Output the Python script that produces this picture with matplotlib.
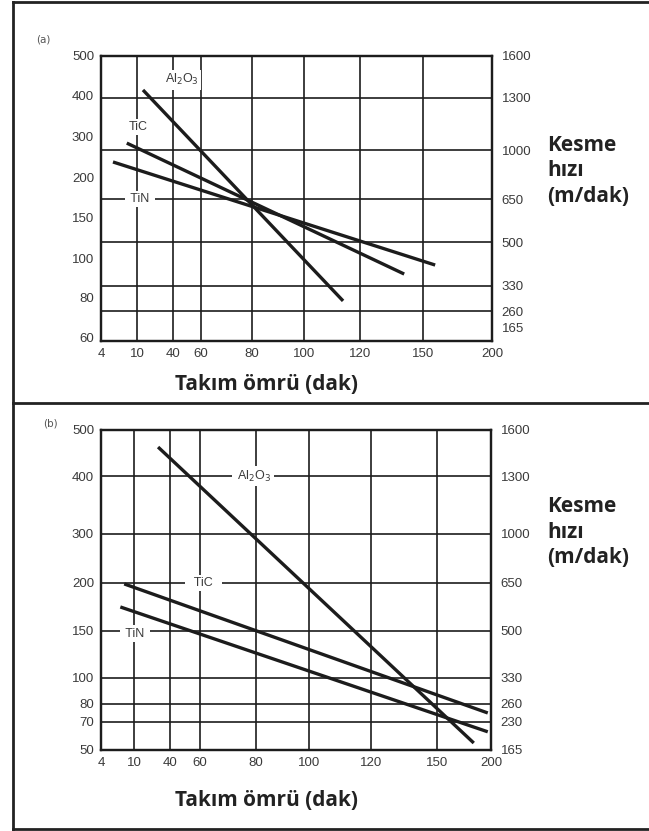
import numpy as np
import matplotlib
matplotlib.use('Agg')
import matplotlib.pyplot as plt
from matplotlib.lines import Line2D


# DATA
x_ticks = [4, 10, 40, 60, 80, 100, 120, 150, 200]

# panel (a)
a_left_ticks = [500, 400, 300, 200, 150, 100, 80, 60]
a_right_ticks = [1600, 1300, 1000, 650, 500, 330, 260, 165]
a_grid = [1600, 1300, 1000, 650, 500, 330, 260]
a_al2o3_x, a_al2o3_y = [15, 114], [413, 78.5]
a_tic_x, a_tic_y = [8.3, 141], [285, 92]
a_tin_x, a_tin_y = [6, 158.7], [239, 96.5]

# panel (b)
b_left_ticks = [500, 400, 300, 200, 150, 100, 80, 70, 50]
b_right_ticks = [1600, 1300, 1000, 650, 500, 330, 260, 230, 165]
b_grid = [1600, 1300, 1000, 650, 500, 330, 260, 230, 165]
b_al2o3_x, b_al2o3_y = [30, 184], [463, 55]
b_tic_x, b_tic_y = [8.2, 197], [199, 75]
b_tin_x, b_tin_y = [7.5, 197], [175, 63]

# AXIS LAYOUT (where each tick sits, as a fraction of the axes)
a_x_pos = [0, 0.092, 0.184, 0.256, 0.386, 0.519, 0.662, 0.824, 1.0]
a_left_pos = [1.0, 0.863, 0.716, 0.572, 0.435, 0.291, 0.151, 0.014]
a_right_pos = [1.0, 0.853, 0.670, 0.498, 0.347, 0.193, 0.105, 0.046]
b_x_pos = [0, 0.085, 0.177, 0.254, 0.397, 0.533, 0.692, 0.862, 1.0]
b_left_pos = [1.0, 0.856, 0.675, 0.522, 0.372, 0.225, 0.144, 0.0875, 0.0]
b_right_pos = [1.0, 0.856, 0.675, 0.522, 0.372, 0.225, 0.144, 0.0875, 0.0]


def piecewise(vals, pos):
    vals = np.asarray(vals, float)
    pos = np.asarray(pos, float)
    o = np.argsort(vals)
    v, p = vals[o], pos[o]

    def lin(x, a, b):
        x = np.asarray(x, float)
        out = np.interp(x, a, b)
        out = np.where(x < a[0], b[0] + (x - a[0]) * (b[1] - b[0]) / (a[1] - a[0]), out)
        out = np.where(x > a[-1], b[-1] + (x - a[-1]) * (b[-1] - b[-2]) / (a[-1] - a[-2]), out)
        return out

    return (lambda x: lin(x, v, p)), (lambda y: lin(y, p, v))


INK = '#1c1c1c'
TICK = dict(fontsize=9.5, color='#3a3a3a', family='Liberation Sans')


def panel(rect, x_pos, left_ticks, left_pos, right_ticks, right_pos, grid_vals,
          series, labels):
    ax = fig.add_axes(rect)
    ax_r = ax.twinx()
    ax.set_zorder(ax_r.get_zorder() + 1)
    ax.patch.set_visible(False)

    fx, ix = piecewise(x_ticks, x_pos)
    ax.set_xscale('function', functions=(fx, ix))
    ax.set_xlim(ix(0.0), ix(1.0))

    fl, il = piecewise(left_ticks, left_pos)
    ax.set_yscale('function', functions=(fl, il))
    ax.set_ylim(il(0.0), il(1.0))

    fr, ir = piecewise(right_ticks, right_pos)
    ax_r.set_yscale('function', functions=(fr, ir))
    ax_r.set_ylim(ir(0.0), ir(1.0))

    ax.set_xticks(x_ticks)
    ax.set_xticklabels([str(v) for v in x_ticks], **TICK)
    ax.set_yticks(left_ticks)
    ax.set_yticklabels([str(v) for v in left_ticks], **TICK)
    ax_r.set_yticks(right_ticks)
    ax_r.set_yticklabels([str(v) for v in right_ticks], **TICK)
    ax.tick_params(length=0, pad=5)
    ax_r.tick_params(length=0, pad=7)
    ax.minorticks_off()
    ax_r.minorticks_off()

    for v in x_ticks:
        ax.axvline(v, color=INK, lw=1.2, zorder=1)
    for v in grid_vals:
        ax_r.axhline(v, color=INK, lw=1.2, zorder=1)
    for a in (ax, ax_r):
        for s in a.spines.values():
            s.set_linewidth(1.6)
            s.set_color(INK)

    for xs, ys in series:
        ax.plot(xs, ys, color=INK, lw=2.4, solid_capstyle='butt', zorder=5)

    for txt, x, y in labels:
        ax.text(x, y, txt, transform=ax.transAxes, ha='center', va='center',
                fontsize=9, color='#3a3a3a', family='Liberation Sans', zorder=4,
                bbox=dict(facecolor='white', edgecolor='none', pad=1.5))
    return ax


fig = plt.figure(figsize=(6.49, 8.31), dpi=100)

panel([101 / 649, 1 - 341 / 831, 391 / 649, 285 / 831], a_x_pos,
      a_left_ticks, a_left_pos, a_right_ticks, a_right_pos, a_grid,
      [(a_al2o3_x, a_al2o3_y), (a_tic_x, a_tic_y), (a_tin_x, a_tin_y)],
      [('Al$_2$O$_3$', 0.207, 0.916), ('TiC', 0.095, 0.751), (' TiN ', 0.10, 0.498)])

panel([101 / 649, 1 - 750 / 831, 390 / 649, 320 / 831], b_x_pos,
      b_left_ticks, b_left_pos, b_right_ticks, b_right_pos, b_grid,
      [(b_al2o3_x, b_al2o3_y), (b_tic_x, b_tic_y), (b_tin_x, b_tin_y)],
      [(' Al$_2$O$_3$ ', 0.39, 0.856), ('  TiC  ', 0.262, 0.522), (' TiN ', 0.087, 0.364)])

# texts outside the axes
fig.text(43 / 649, 1 - 40 / 831, '(a)', fontsize=7.5, color='#555', ha='center', va='center')
fig.text(50 / 649, 1 - 423 / 831, '(b)', fontsize=7.5, color='#555', ha='center', va='center')
for y in (1 - 384 / 831, 1 - 800 / 831):
    fig.text(0.41, y, 'Takım ömrü (dak)', fontsize=15, fontweight='bold',
             family='Open Sans', color='#222', ha='center', va='center')
for y in (1 - 171 / 831, 1 - 532 / 831):
    fig.text(547 / 649, y, 'Kesme\nhızı\n(m/dak)', fontsize=15, fontweight='bold',
             family='Open Sans', color='#222', ha='left', va='center', linespacing=1.3)

# frame around the two panels
for xs, ys in [([13 / 649, 13 / 649], [0.0025, 0.997]),
               ([13 / 649, 1.0], [0.997, 0.997]),
               ([13 / 649, 1.0], [1 - 403 / 831, 1 - 403 / 831]),
               ([13 / 649, 1.0], [0.0025, 0.0025])]:
    fig.add_artist(Line2D(xs, ys, transform=fig.transFigure, color='#222', lw=2))

fig.savefig('out.png', dpi=100)
